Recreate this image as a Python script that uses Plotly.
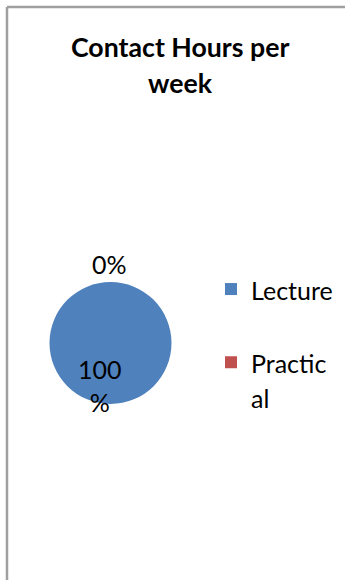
import plotly.graph_objects as go

# Contact hours per week split by teaching type
categories = ["Lecture", "Practical"]
hours = [100, 0]
colors = ["#4F81BD", "#C0504D"]

W, H = 345, 580
FONT = "Lato"
TEXT_SIZE = 25
LEGEND_ROW = 27  # legend line pitch is 1.3 x this

total = sum(hours)
pct = [round(v / total * 100) for v in hours]


def px(x):
    return x / W


def py(y):
    return 1 - y / H


def sized(s):
    return f"<span style='font-size:{TEXT_SIZE}px'>{s}</span>"


# Legend entries wrap the way the narrow legend column does
legend_names = [
    sized("Lecture") + "<br> ",
    sized("Practic") + "<br>" + sized("al"),
]

fig = go.Figure()
fig.add_trace(go.Pie(
    labels=legend_names,
    values=hours,
    marker=dict(colors=colors, line=dict(width=0)),
    textinfo="none",
    hoverinfo="skip",
    sort=False,
    direction="clockwise",
    rotation=0,
    showlegend=True,
    domain=dict(x=[px(49.5), px(171.5)], y=[py(404), py(282)]),
))

annotations = [
    # Title, two lines
    dict(text="<b>Contact Hours per</b>", x=px(180), y=py(47), xanchor="center",
         yanchor="middle", showarrow=False, font=dict(size=26.7, color="black", family=FONT)),
    dict(text="<b>week</b>", x=px(180), y=py(83), xanchor="center",
         yanchor="middle", showarrow=False, font=dict(size=26.7, color="black", family=FONT)),
    # Slice percentage labels
    dict(text=f"{pct[1]}%", x=px(109), y=py(264), xanchor="center", yanchor="middle",
         showarrow=False, font=dict(size=TEXT_SIZE, color="black", family=FONT)),
    dict(text=f"{pct[0]}<br>%", x=px(100), y=py(385), xanchor="center", yanchor="middle",
         showarrow=False, font=dict(size=TEXT_SIZE, color="black", family=FONT)),
]

shapes = [
    # Chart-area frame (left and top edges)
    dict(type="line", xref="paper", yref="paper", x0=px(7), x1=px(7), y0=0, y1=py(7),
         line=dict(color="#a0a0a0", width=2.5)),
    dict(type="line", xref="paper", yref="paper", x0=px(7), x1=1, y0=py(7), y1=py(7),
         line=dict(color="#a0a0a0", width=2.5)),
]

fig.update_layout(
    width=W, height=H,
    margin=dict(l=0, r=0, t=0, b=0),
    paper_bgcolor="white",
    plot_bgcolor="white",
    font=dict(family=FONT, size=TEXT_SIZE, color="black"),
    annotations=annotations,
    shapes=shapes,
    legend=dict(
        x=px(211), y=py(265), xanchor="left", yanchor="top",
        valign="top", font=dict(size=LEGEND_ROW, family=FONT, color="black"),
        bgcolor="rgba(0,0,0,0)", borderwidth=0,
    ),
)

fig.write_html("out.html", config={"displayModeBar": False})
